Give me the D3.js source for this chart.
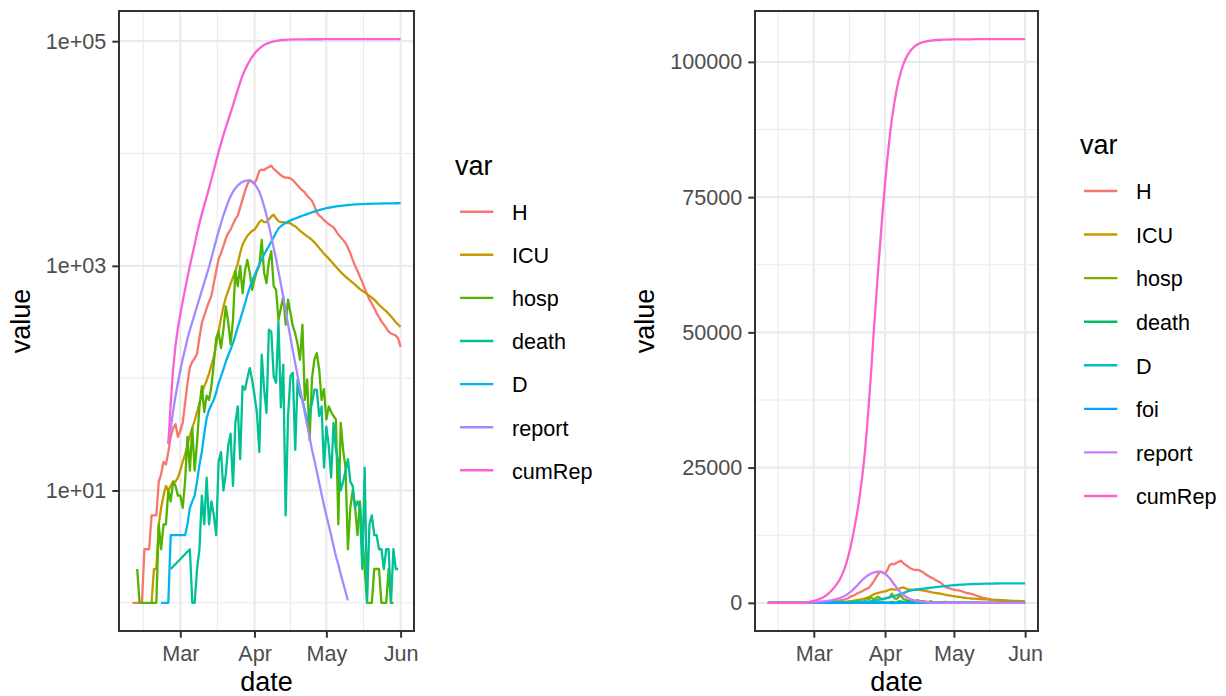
<!DOCTYPE html>
<html lang="en">
<head>
<meta charset="UTF-8" />
<title>Epidemic series, log and linear</title>
<script src="https://d3js.org/d3.v7.min.js"></script>
<style>
  body { margin: 0; background: #fff; }
  svg { display: block; font-family: "Liberation Sans", Arial, Helvetica, sans-serif; }
</style>
</head>
<body>
<svg width="1226" height="696"></svg>
<script>
// daily values, first day = 2020-02-10, last day = 2020-06-01
const firstDay = "2020-02-10";

const H = [1,1,1,1,1,3,3,3,6,6,
  6,12,14,18,17,22,30,36,39,30,
  34,40,60,90,125,140,150,165,230,310,
  360,420,480,540,700,900,1150,1300,1500,1750,
  1950,2100,2350,2600,2800,3300,3900,4600,5300,5800,
  5600,5400,6000,7000,7200,7100,7400,7600,7800,7300,
  7000,6700,6400,6200,6100,6100,6000,5800,5500,5200,
  4900,4700,4500,4200,4000,3800,3400,3000,2800,2700,
  2550,2450,2350,2280,2200,2050,1900,1800,1700,1600,
  1450,1300,1130,1000,900,800,720,630,560,500,
  460,420,380,350,320,300,280,260,250,245,
  240,225,190];

const ICU = [0,0,0,0,0,0,0,0,1,2,
  2,5,7,9,11,10,11,12,12,13,
  15,18,21,25,31,36,42,50,60,72,
  85,95,110,130,155,200,260,340,430,520,
  600,690,790,900,1050,1300,1550,1700,1850,1950,
  2050,2100,2250,2450,2550,2450,2450,2600,2750,2850,
  2650,2500,2450,2450,2400,2400,2400,2300,2250,2150,
  2050,1980,1900,1830,1770,1700,1620,1530,1440,1360,
  1280,1220,1160,1100,1040,980,930,880,840,800,
  770,740,710,680,650,620,600,580,560,540,
  520,500,475,450,430,410,395,375,355,335,
  315,300,285];

const hosp = [0,0,2,1,1,1,1,1,1,1,
  1,5,3,5,5,10,8,12,11,9,
  9,7,12,30,15,36,15,27,56,85,
  50,70,64,85,136,228,260,185,270,436,
  316,200,330,900,660,1000,570,900,1130,870,
  610,760,900,1000,1700,870,700,1100,1350,660,
  610,330,420,535,300,500,380,290,250,200,
  146,300,64,97,28,100,146,167,120,64,
  80,43,56,50,46,43,5,40,23,16,
  3,7,10,7,4,8,4,2,1,1,
  1,2,2,2,1,1,1,2,1,1,
  0,0,0];

const death = [0,0,0,0,0,0,0,0,0,0,
  0,0,0,0,0,0,2,0,0,0,
  0,0,0,0,3,1,1,2,3,9,
  5,13,5,8,6,4,18,22,10,14,
  25,32,11,40,56,19,85,79,100,123,
  97,70,49,22,162,80,49,270,260,104,
  91,318,55,132,6,46,104,112,23,97,
  70,64,52,40,50,60,79,79,46,56,
  16,37,25,13,40,23,18,10,12,15,
  19,12,11,7,8,7,2,16,1,5,
  6,4,4,3,3,2,3,3,1,3,
  2,2,0];

const D = [0,0,0,0,0,0,0,0,0,0,
  0,0,1,1,1,1,4,4,4,4,
  4,4,4,5,7,8,9,12,17,22,
  32,44,52,58,64,75,90,104,120,140,
  160,180,205,240,285,330,390,460,550,640,
  740,820,920,1030,1150,1260,1380,1500,1640,1800,
  1980,2150,2250,2340,2420,2480,2540,2590,2640,2690,
  2740,2790,2840,2890,2940,2990,3040,3090,3140,3180,
  3220,3260,3290,3320,3350,3380,3400,3420,3440,3460,
  3480,3495,3510,3520,3530,3540,3550,3557,3563,3568,
  3573,3578,3582,3586,3590,3593,3596,3599,3602,3605,
  3607,3609,3610];

const foi = [0.05,0.06,0.07,0.08,0.09,0.1,0.11,0.12,0.14,0.15,
  0.17,0.18,0.2,0.22,0.24,0.26,0.28,0.3,0.32,0.34,
  0.36,0.38,0.4,0.41,0.42,0.43,0.44,0.44,0.43,0.41,
  0.38,0.34,0.3,0.25,0.21,0.17,0.14,0.11,0.09,0.07,
  0.06,0.05,0.04,0.03,0.025,0.02,0.016,0.013,0.01,0.008,
  0.007,0.006,0.005,0.004,0.004,0.003,0.003,0.002,0.002,0.002,
  0.002,0.001,0.001,0.001,0.001,0.001,0.001,0.001,0.001,0.001,
  0.001,0.001,0.001,0.001,0.001,0.001,0.001,0.001,0.001,0.001,
  0.001,0.001,0.001,0.001,0.001,0.001,0.001,0.001,0.001,0.001,
  0.001,0.001,0.001,0.001,0.001,0.001,0.001,0.001,0.001,0.001,
  0.001,0.001,0.001,0.001,0.001,0.001,0.001,0.001,0.001,0.001,
  0.001,0.001,0.001];

const report = [0,0,0,0,0,0,0,0,0,0,
  0,0,0,0,0,26,36,51,69,91,
  117,148,182,224,269,316,372,437,513,603,
  708,832,977,1175,1413,1700,2040,2400,2820,3240,
  3715,4170,4570,4900,5190,5430,5600,5700,5750,5730,
  5620,5370,5010,4570,3980,3390,2820,2290,1820,1445,
  1150,890,690,525,400,300,230,175,135,105,
  81,63,49,38,30,23,18.6,14.8,11.7,9.3,
  7.4,6.0,4.9,4.0,3.2,2.6,2.2,1.8,1.5,1.26,
  1.05,0.86,0.72,0.6,0.5,0.41,0.34,0.28,0.23,0.19,
  0.15,0.12,0.1,0.08,0.07,0.05,0.04,0.03,0.03,0.02,
  0.02,0.01,0.01];

const cumRep = [0,0,0,0,0,0,0,0,0,0,
  0,0,0,0,0,26,60,120,195,280,
  370,480,620,790,1000,1250,1550,1950,2400,2900,
  3450,4100,4900,5900,7100,8600,10300,12300,14600,17000,
  19800,23000,26800,31500,37000,43000,49500,55500,61500,67000,
  72500,77500,82000,86000,89500,92300,94700,96700,98300,99600,
  100600,101400,102000,102500,102900,103200,103400,103600,103700,103800,
  103900,103950,104000,104000,104050,104050,104100,104100,104100,104100,
  104150,104150,104150,104150,104150,104150,104150,104150,104150,104150,
  104200,104200,104200,104200,104200,104200,104200,104200,104200,104200,
  104200,104200,104200,104200,104200,104200,104200,104200,104200,104200,
  104200,104200,104200];

const monthTicks = ["2020-03-01", "2020-04-01", "2020-05-01", "2020-06-01"];
const monthLabels = ["Mar", "Apr", "May", "Jun"];

const leftVars = ["H", "ICU", "hosp", "death", "D", "report", "cumRep"];
const leftColors = ["#F8766D", "#C49A00", "#53B400", "#00C094", "#00B6EB", "#A58AFF", "#FB61D7"];
const logTicks = [10, 1000, 100000];
const logTickLabels = ["1e+01", "1e+03", "1e+05"];
const logMinor = [1, 100, 10000];

const rightVars = ["H", "ICU", "hosp", "death", "D", "foi", "report", "cumRep"];
const rightColors = ["#F8766D", "#CD9600", "#7CAE00", "#00BE67", "#00BFC4", "#00A9FF", "#C77CFF", "#FF61CC"];
const linTicks = [0, 25000, 50000, 75000, 100000];
const linMinor = [12500, 37500, 62500, 87500];

const series = { H, ICU, hosp, death, D, foi, report, cumRep };

const svg = d3.select("svg");
const parse = d3.utcParse("%Y-%m-%d");
const t0 = parse(firstDay);
const dates = H.map((v, i) => d3.utcDay.offset(t0, i));

// x domain like ggplot: data range + 5% each side
const [dMin, dMax] = d3.extent(dates);
const xPad = (dMax - dMin) * 0.05;
const xDomain = [new Date(+dMin - xPad), new Date(+dMax + xPad)];

// minor breaks: midpoints, with one extra break before the first month
const majors = monthTicks.map(parse);
const step0 = majors[1] - majors[0];
const withPrev = [new Date(+majors[0] - step0)].concat(majors);
const xMinor = d3.pairs(withPrev).map(([a, b]) => new Date((+a + +b) / 2));

const GRID = "#EBEBEB";
const DARK = "#333333";

function drawPanel(p) {
  const g = svg.append("g");
  const x = d3.scaleUtc().domain(xDomain).range([p.left, p.right]);
  const y = p.yScale.range([p.bottom, p.top]);

  // grid
  const grid = g.append("g");
  grid.selectAll(".xminor").data(xMinor.filter(d => d >= xDomain[0])).join("line")
    .attr("x1", d => x(d)).attr("x2", d => x(d))
    .attr("y1", p.top).attr("y2", p.bottom)
    .attr("stroke", GRID).attr("stroke-width", 1.1);
  grid.selectAll(".yminor").data(p.yMinor).join("line")
    .attr("x1", p.left).attr("x2", p.right)
    .attr("y1", d => y(d)).attr("y2", d => y(d))
    .attr("stroke", GRID).attr("stroke-width", 1.1);
  grid.selectAll(".xmajor").data(majors).join("line")
    .attr("x1", d => x(d)).attr("x2", d => x(d))
    .attr("y1", p.top).attr("y2", p.bottom)
    .attr("stroke", GRID).attr("stroke-width", 2.2);
  grid.selectAll(".ymajor").data(p.yTicks).join("line")
    .attr("x1", p.left).attr("x2", p.right)
    .attr("y1", d => y(d)).attr("y2", d => y(d))
    .attr("stroke", GRID).attr("stroke-width", 2.2);

  // lines
  const clipId = "clip" + p.left;
  svg.append("clipPath").attr("id", clipId).append("rect")
    .attr("x", p.left).attr("y", p.top)
    .attr("width", p.right - p.left).attr("height", p.bottom - p.top);

  const line = d3.line().x(d => x(d.date)).y(d => y(d.v));
  const lines = g.append("g").attr("clip-path", `url(#${clipId})`);
  p.vars.forEach((name, i) => {
    const pts = dates.map((d, k) => ({ date: d, v: series[name][k] })).filter(p.keep);
    lines.append("path")
      .datum(pts)
      .attr("fill", "none")
      .attr("stroke", p.colors[i])
      .attr("stroke-width", 2.3)
      .attr("stroke-linejoin", "round")
      .attr("d", line);
  });

  // border
  g.append("rect")
    .attr("x", p.left).attr("y", p.top)
    .attr("width", p.right - p.left).attr("height", p.bottom - p.top)
    .attr("fill", "none").attr("stroke", DARK).attr("stroke-width", 2);

  // axes
  const styleAxis = a => {
    a.attr("font-size", null).attr("font-family", null);
    a.select(".domain").remove();
    a.selectAll(".tick line").attr("stroke", DARK).attr("stroke-width", 2);
    a.selectAll(".tick text").attr("fill", "#4D4D4D").style("font-size", "21.6px");
  };
  g.append("g")
    .attr("transform", `translate(${p.left},0)`)
    .call(d3.axisLeft(y).tickValues(p.yTicks).tickFormat((d, i) => p.yLabels[i])
      .tickSize(6.7).tickPadding(6))
    .call(styleAxis);
  g.append("g")
    .attr("transform", `translate(0,${p.bottom})`)
    .call(d3.axisBottom(x).tickValues(majors).tickFormat((d, i) => monthLabels[i])
      .tickSize(6.7).tickPadding(7.7))
    .call(styleAxis);

  // axis titles
  g.append("text")
    .attr("x", (p.left + p.right) / 2).attr("y", 691)
    .attr("text-anchor", "middle").style("font-size", "27px").attr("fill", "#000")
    .text("date");
  g.append("text")
    .attr("transform", `translate(${p.yTitleX},${(p.top + p.bottom) / 2}) rotate(-90)`)
    .attr("text-anchor", "middle").style("font-size", "27px").attr("fill", "#000")
    .text("value");

  // legend
  const lg = svg.append("g");
  lg.append("text")
    .attr("x", p.legend.titleX).attr("y", p.legend.titleY)
    .style("font-size", "27px").attr("fill", "#000").text("var");
  p.vars.forEach((name, i) => {
    const cy = p.legend.y0 + i * p.legend.dy;
    lg.append("line")
      .attr("x1", p.legend.keyX).attr("x2", p.legend.keyX + 33.3)
      .attr("y1", cy).attr("y2", cy)
      .attr("stroke", p.colors[i]).attr("stroke-width", 2.4);
    lg.append("text")
      .attr("x", p.legend.labelX).attr("y", cy + 8.3)
      .style("font-size", "21.6px").attr("fill", "#000").text(name);
  });
}

// left panel: log scale, values below 1 dropped
const leftVals = leftVars.flatMap(v => series[v].filter(d => d >= 1));
const lLo = Math.log10(d3.min(leftVals));
const lHi = Math.log10(d3.max(leftVals));
const lPad = (lHi - lLo) * 0.05;

drawPanel({
  left: 119, right: 414, top: 11, bottom: 631,
  yScale: d3.scaleLog().domain([Math.pow(10, lLo - lPad), Math.pow(10, lHi + lPad)]),
  yTicks: logTicks, yLabels: logTickLabels, yMinor: logMinor,
  vars: leftVars, colors: leftColors,
  keep: d => d.v >= 1,
  yTitleX: 30,
  legend: { titleX: 455, titleY: 175, keyX: 460, labelX: 512, y0: 211.7, dy: 43.1 }
});

// right panel: linear scale, all values
const rightVals = rightVars.flatMap(v => series[v]);
const rLo = d3.min(rightVals);
const rHi = d3.max(rightVals);
const rPad = (rHi - rLo) * 0.05;

drawPanel({
  left: 755, right: 1038, top: 11, bottom: 631,
  yScale: d3.scaleLinear().domain([rLo - rPad, rHi + rPad]),
  yTicks: linTicks, yLabels: linTicks.map(d3.format("d")), yMinor: linMinor,
  vars: rightVars, colors: rightColors,
  keep: d => true,
  yTitleX: 654,
  legend: { titleX: 1080, titleY: 153.5, keyX: 1084, labelX: 1136, y0: 191, dy: 43.57 }
});
</script>
</body>
</html>
